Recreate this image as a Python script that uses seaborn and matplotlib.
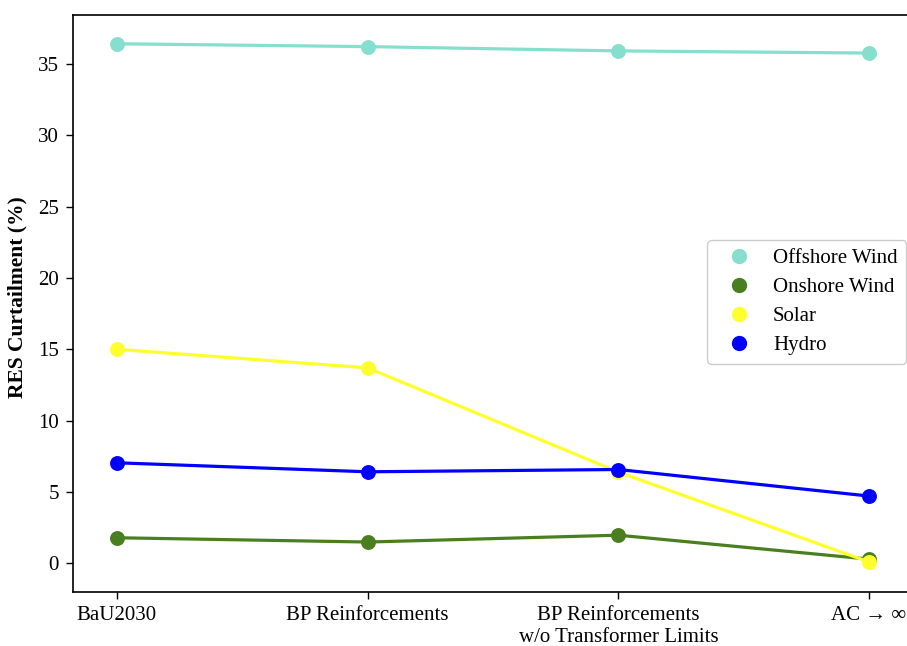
import pandas as pd
import matplotlib
matplotlib.use('Agg')
import matplotlib.pyplot as plt
from matplotlib.lines import Line2D
import seaborn as sns

# scenarios and curtailment values (%)
scenarios = ['BaU2030', 'BP Reinforcements',
             'BP Reinforcements\nw/o Transformer Limits', 'AC \u2192 \u221e']
offshore = [36.4, 36.2, 35.9, 35.75]
onshore = [1.8, 1.5, 1.98, 0.3]
solar = [15.0, 13.7, 6.4, 0.1]
hydro = [7.05, 6.42, 6.58, 4.72]

techs = ['Offshore Wind', 'Onshore Wind', 'Solar', 'Hydro']
colors = ['#86DFCE', '#4A7F1F', '#FFFF2E', '#0000FF']

df = pd.DataFrame({
    'Scenario': scenarios * 4,
    'Curtailment': offshore + onshore + solar + hydro,
    'Technology': [t for t in techs for _ in scenarios],
})

sns.set_style('ticks', {'axes.edgecolor': 'black', 'text.color': 'black',
                        'xtick.color': 'black', 'ytick.color': 'black',
                        'axes.labelcolor': 'black'})
plt.rcParams['font.family'] = ['Liberation Serif', 'DejaVu Serif']

fig = plt.figure(figsize=(9.07, 6.46), dpi=100)
ax = fig.add_axes([73 / 907, 54 / 646, 840 / 907, 577.5 / 646])

sns.pointplot(data=df, x='Scenario', y='Curtailment', hue='Technology',
              hue_order=techs, palette=colors, errorbar=None,
              markersize=9, linewidth=2.3, ax=ax)

ax.set_xlim(-0.175, 3.175)
ax.set_ylim(-2.0, 38.45)
ax.set_xlabel('')
ax.set_ylabel('RES Curtailment (%)', fontsize=15.5, fontweight='bold')
ax.yaxis.set_label_coords(-0.0536, 0.511)
ax.tick_params(labelsize=15, length=5, width=1, pad=5)
for s in ax.spines.values():
    s.set_linewidth(1.2)

handles = [Line2D([], [], marker='o', linestyle='', color=c, markersize=10)
           for c in colors]
ax.legend(handles, techs, loc='center right', fontsize=15, labelspacing=0.45,
          handlelength=2.2, handletextpad=0.55, borderaxespad=0,
          bbox_to_anchor=(906 / 907, 1 - 302 / 646),
          bbox_transform=fig.transFigure, framealpha=1)

fig.savefig('out.png', dpi=100)
